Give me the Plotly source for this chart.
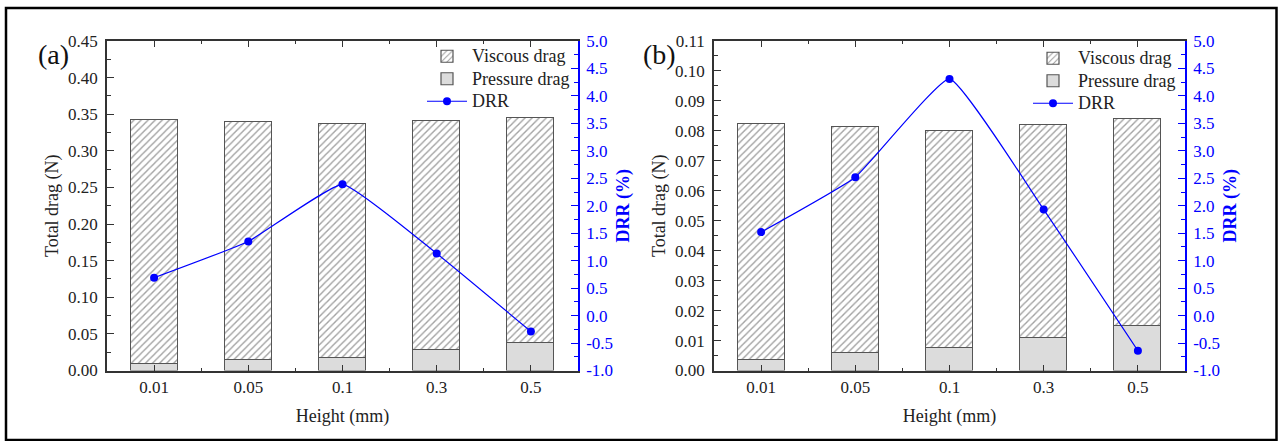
import plotly.graph_objects as go

# ---------------- data ----------------
heights = ["0.01", "0.05", "0.1", "0.3", "0.5"]

a_pressure = [0.0092, 0.0146, 0.0174, 0.0274, 0.0379]
a_viscous = [0.3328, 0.3254, 0.3191, 0.3131, 0.3071]
a_drr = [0.69, 1.35, 2.39, 1.13, -0.29]

b_pressure = [0.0036, 0.0058, 0.0075, 0.0107, 0.0148]
b_viscous = [0.0786, 0.0756, 0.0723, 0.0711, 0.0692]
b_drr = [1.52, 2.52, 4.31, 1.93, -0.64]

a_yticks = [round(0.05 * i, 2) for i in range(10)]
b_yticks = [round(0.01 * i, 2) for i in range(12)]
drr_ticks = [round(-1 + 0.5 * i, 1) for i in range(13)]

# ---------------- style ----------------
W, H = 1278, 441
FONT = "Liberation Serif"
AXC = "#333333"
BLUE = "#0000ff"
xpos = list(range(len(heights)))

fig = go.Figure()


def big(t):
    return f'<span style="font-size:18px">{t}</span>'


def add_panel(pressure, viscous, drr, xa, ya, ya2, legend):
    fig.add_trace(go.Bar(
        x=xpos, y=pressure, name=big("Pressure drag"), xaxis=xa, yaxis=ya,
        width=0.5, legend=legend, legendrank=2,
        marker=dict(color="#dcdcdc", line=dict(color="#555555", width=1.2)),
    ))
    fig.add_trace(go.Bar(
        x=xpos, y=viscous, name=big("Viscous drag"), xaxis=xa, yaxis=ya,
        width=0.5, legend=legend, legendrank=1,
        marker=dict(color="white", line=dict(color="#555555", width=1.2),
                    pattern=dict(shape="/", fgcolor="#444444", bgcolor="white",
                                 size=5, solidity=0.28)),
    ))
    fig.add_trace(go.Scatter(
        x=xpos, y=drr, name=big("DRR"), xaxis=xa, yaxis=ya2, mode="lines+markers",
        legend=legend, legendrank=3,
        line=dict(color=BLUE, width=1.2, shape="spline", smoothing=0.35),
        marker=dict(color=BLUE, size=8),
    ))


add_panel(a_pressure, a_viscous, a_drr, "x", "y", "y2", "legend")
add_panel(b_pressure, b_viscous, b_drr, "x2", "y3", "y4", "legend2")

ydom = [1 - 370.5 / H, 1 - 41 / H]
xdom_a = [107 / W, 578 / W]
xdom_b = [714 / W, 1185 / W]


def xaxis_cfg(dom, anchor):
    return dict(
        domain=dom, anchor=anchor, range=[-0.5, 4.5],
        tickvals=xpos, ticktext=heights,
        ticks="inside", ticklen=6, tickwidth=1.3, tickcolor=AXC,
        minor=dict(tickvals=[0.5, 1.5, 2.5, 3.5], ticks="inside", ticklen=3,
                   tickwidth=1.3, tickcolor=AXC),
        showline=True, linecolor=AXC, linewidth=1.5, mirror="ticks",
        showgrid=False, zeroline=False, automargin=False,
        tickfont=dict(family=FONT, size=17, color="#222"),
        ticklabelstandoff=0,
        title=dict(text="Height (mm)", font=dict(family=FONT, size=18, color="#222"),
                   standoff=14),
    )


def yaxis_cfg(dom, anchor, rng, ticks, minor_d):
    return dict(
        domain=dom, anchor=anchor, range=rng,
        tickvals=ticks, ticktext=[f"{v:.2f}" for v in ticks],
        ticks="inside", ticklen=7, tickwidth=1.3, tickcolor=AXC,
        minor=dict(dtick=minor_d, tick0=0, ticks="inside", ticklen=4,
                   tickwidth=1.3, tickcolor=AXC),
        showline=True, linecolor=AXC, linewidth=1.5, mirror=False,
        showgrid=False, zeroline=False, automargin=False,
        tickfont=dict(family=FONT, size=17, color="#222"),
        ticklabelstandoff=4,
        title=dict(text="Total drag (N)", font=dict(family=FONT, size=18, color="#222"),
                   standoff=5),
    )


def drr_cfg(overlay, anchor):
    return dict(
        overlaying=overlay, anchor=anchor, side="right", range=[-1, 5],
        tickvals=drr_ticks, ticktext=[f"{v:.1f}" for v in drr_ticks],
        ticks="inside", ticklen=7, tickwidth=1.3, tickcolor=BLUE,
        minor=dict(dtick=0.25, tick0=0, ticks="inside", ticklen=4,
                   tickwidth=1.3, tickcolor=BLUE),
        showline=True, linecolor=BLUE, linewidth=1.5,
        showgrid=False, zeroline=False, automargin=False,
        tickfont=dict(family=FONT, size=17, color=BLUE),
        ticklabelstandoff=3,
        title=dict(text="<b>DRR (%)</b>", font=dict(family=FONT, size=18, color=BLUE),
                   standoff=4),
    )


leg_common = dict(
    font=dict(family=FONT, size=15, color="#222"),
    bgcolor="rgba(0,0,0,0)", borderwidth=0, traceorder="normal",
    tracegroupgap=0, itemwidth=40, yanchor="top", xanchor="left",
)

fig.update_layout(
    width=W, height=H,
    font=dict(family=FONT),
    margin=dict(l=0, r=0, t=0, b=0, pad=0, autoexpand=False),
    paper_bgcolor="white", plot_bgcolor="white",
    barmode="stack", bargap=0,
    showlegend=True,
    xaxis=xaxis_cfg(xdom_a, "y"),
    xaxis2=xaxis_cfg(xdom_b, "y3"),
    yaxis=yaxis_cfg(ydom, "x", [0, 0.45], a_yticks, 0.025),
    yaxis2=drr_cfg("y", "x"),
    yaxis3=yaxis_cfg(ydom, "x2", [0, 0.11], b_yticks, 0.005),
    yaxis4=drr_cfg("y3", "x2"),
    legend=dict(x=422 / W, y=1 - 40 / H, **leg_common),
    legend2=dict(x=1028 / W, y=1 - 42 / H, **leg_common),
    annotations=[
        dict(text="(a)", x=53 / W, y=1 - 55 / H, xref="paper", yref="paper",
             xanchor="center", yanchor="middle",
             showarrow=False, font=dict(family=FONT, size=28, color="#111")),
        dict(text="(b)", x=659 / W, y=1 - 55 / H, xref="paper", yref="paper",
             xanchor="center", yanchor="middle",
             showarrow=False, font=dict(family=FONT, size=28, color="#111")),
    ],
    shapes=[
        dict(type="rect", xref="paper", yref="paper",
             x0=6 / W, x1=1276.5 / W, y0=1 / H, y1=1 - 8 / H,
             line=dict(color="black", width=2.5), fillcolor="rgba(0,0,0,0)"),
    ],
)

fig.write_html("out.html")
